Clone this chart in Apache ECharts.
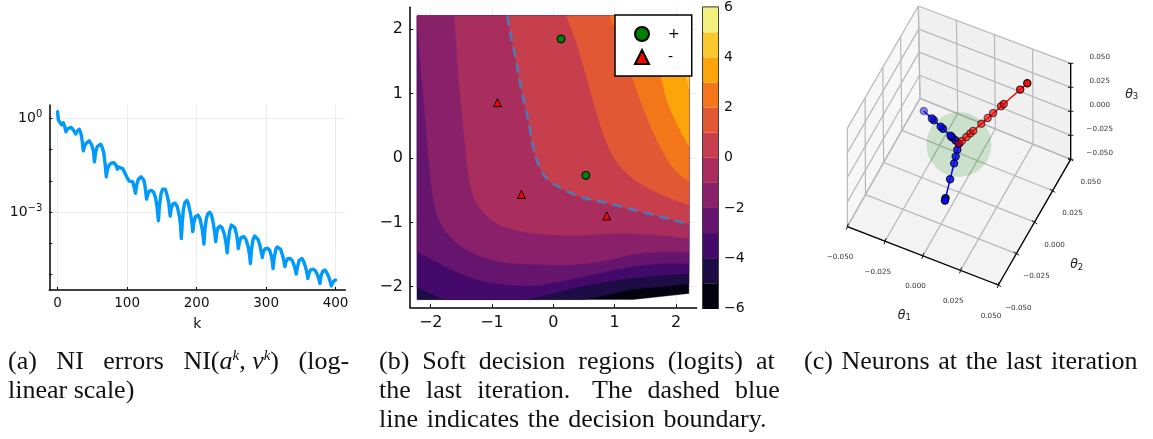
<!DOCTYPE html>
<html><head><meta charset="utf-8">
<style>html,body{margin:0;padding:0;background:#fff}#c{width:1153px;height:439px}</style>
<script src="https://cdn.jsdelivr.net/npm/echarts@6/dist/echarts.min.js"></script>
</head><body><div id="c"></div>
<script>
// ---- panel (a): k, log10 NI error
const errK = [0,0.5,1,3,5.7,8,10,12,13.5,15,19,22,26,28,31,33.5,35.5,37,39,41,45.5,49,51.5,53,54.5,57,62,64.5,66.5,68.5,70,71.5,74,77,81,84,86,88,90,94,97,100,103,108,110,112,113.5,116,120,124,126,128,
130,132,135,138,141,143,145,146.5,149,151,153,155,157,160,162,163.5,166,169,172,175,177,178,179.5,181,183,186,188,191,193,194.5,196,198,202,205,208,209.5,210.5,212,214,216,219,221.5,224,226,227.5,229,231,234,237,240,242.5,244,245.5,247.5,250,252.5,255,257.5,259,260,261.5,264,268,271,274,276,277.5,279,281,283.5,286,288.5,291,293,294.5,296,298.5,302,305,307.5,309,310,311.5,314,316,318.5,321,323.5,325.5,327,328.5,331,335,338,341,343.5,345,347.5,351.6,354,357,359,360,361.5,364,367.4,371,374,376,377.5,379,381.5,384.7,387.5,390.5,392.5,394,395.5,397.6,400];
const errLog = [0.21,0.05,-0.05,-0.12,-0.21,-0.14,-0.25,-0.43,-0.35,-0.32,-0.29,-0.35,-0.50,-0.42,-0.35,-0.48,-0.75,-1.04,-0.88,-0.80,-0.72,-0.85,-1.05,-1.39,-1.10,-0.91,-0.83,-0.95,-1.12,-1.5,-1.87,-1.65,-1.50,-1.44,-1.42,-1.50,-1.63,-1.56,-1.51,-1.62,-1.76,-1.9,-2.01,-2.03,-2.2,-2.40,-2.15,-1.96,-1.87,-1.98,-2.2,-2.59,
-2.42,-2.33,-2.31,-2.36,-2.55,-2.82,-3.28,-2.80,-2.40,-2.27,-2.24,-2.28,-2.42,-2.72,-3.13,-2.88,-2.74,-2.72,-2.82,-3.10,-3.45,-3.85,-3.30,-2.92,-2.70,-2.63,-2.72,-3.04,-3.30,-3.63,-3.35,-3.16,-3.10,-3.22,-3.55,-3.80,-4.03,-3.55,-3.22,-3.06,-3.01,-3.10,-3.37,-3.65,-3.95,-3.65,-3.50,-3.45,-3.52,-3.72,-4.02,-4.31,-3.95,-3.60,-3.42,-3.39,-3.50,-3.72,-3.95,-4.17,-3.98,-3.82,-3.79,-3.88,-4.10,-4.35,-4.65,-4.20,-3.90,-3.77,-3.76,-3.88,-4.06,-4.28,-4.46,-4.28,-4.18,-4.16,-4.22,-4.40,-4.60,-4.81,-4.50,-4.20,-4.12,-4.11,-4.20,-4.38,-4.55,-4.75,-4.60,-4.50,-4.49,-4.57,-4.75,-4.99,-4.78,-4.55,-4.49,-4.58,-4.78,-4.98,-5.13,-4.98,-4.86,-4.83,-4.88,-5.02,-5.15,-5.29,-5.05,-4.90,-4.86,-4.95,-5.10,-5.25,-5.37,-5.28,-5.21,-5.18];
const kTicks = [0,100,200,300,400];
const decadeTicks = [0,-1,-2,-3,-4,-5];
const labelledDecades = [0,-3];

// ---- panel (b): iso-lines of the logits
const isoM5 = [[2.21,-1.95],[1.74,-2.0],[1.30,-2.04],[0.87,-2.13],[0.49,-2.20]];
const isoM4 = [[2.21,-1.80],[1.63,-1.83],[1.03,-1.90],[0.43,-2.0],[-0.11,-2.13],[-0.49,-2.20]];
const isoM4corner = [[-1.77,-2.20],[-2.01,-2.10],[-2.22,-2.01]];
const isoM3 = [[2.21,-1.64],[1.74,-1.64],[1.20,-1.70],[0.60,-1.82],[0.11,-1.92],[-0.33,-1.98],[-0.76,-1.97],[-1.20,-1.90],[-1.58,-1.77],[-1.96,-1.59],[-2.22,-1.46]];
const isoM2 = [[2.21,-1.46],[1.68,-1.46],[1.30,-1.50],[0.76,-1.61],[0.22,-1.66],[-0.33,-1.65],[-0.87,-1.61],[-1.41,-1.43],[-1.77,-1.12],[-1.93,-0.76],[-2.01,-0.24],[-2.09,0.64],[-2.16,1.42],[-2.22,2.07]];
const isoM1 = [[2.21,-1.25],[1.74,-1.20],[1.09,-1.17],[0.33,-1.20],[-0.33,-1.17],[-0.87,-1.04],[-1.17,-0.81],[-1.35,-0.45],[-1.44,0.23],[-1.55,1.32],[-1.61,2.21]];
const iso0 = [[-0.75,2.21],[-0.71,1.99],[-0.61,1.52],[-0.52,1.06],[-0.41,0.59],[-0.33,0.18],[-0.24,-0.11],[-0.11,-0.32],[0.11,-0.46],[0.43,-0.60],[0.87,-0.70],[1.41,-0.83],[1.85,-0.94],[2.21,-1.03]];
const iso1 = [[0.21,2.21],[0.38,1.78],[0.54,1.26],[0.71,0.69],[0.87,0.23],[1.09,-0.13],[1.41,-0.39],[1.79,-0.58],[2.21,-0.73]];
const iso2 = [[0.92,2.21],[1.09,1.78],[1.30,1.21],[1.52,0.64],[1.74,0.18],[1.96,-0.16],[2.21,-0.37]];
const iso3 = [[1.41,2.21],[1.73,1.33],[1.85,0.90],[2.01,0.54],[2.21,0.18]];
const iso4 = [[1.90,2.21],[2.15,1.33],[2.21,1.08]];
const sampled = [[-2.22,-2.2],[1.30,-2.2],[2.21,-2.104],[2.21,2.21],[-2.22,2.21]];
const plusPts = [[0.125,1.85],[0.53,-0.27]];
const minusPts = [[-0.91,0.86],[-0.52,-0.565],[0.87,-0.90]];
const bTicks = [-2,-1,0,1,2];
const barTicks = [-6,-4,-2,0,2,4,6];
const barLevels = [-6,-5,-4,-3,-2,-1,0,1,2,3,4,5];

// ---- panel (c): neurons in parameter space
const redT1 = [0,0.0012,0.003,0.0045,0.0057,0.0089,0.0114,0.0135,0.0167,0.0178,0.0243,0.027];
const redT2 = [0,0.0017,0.0042,0.0063,0.008,0.0125,0.0161,0.0192,0.0236,0.025,0.0342,0.0383];
const redT3 = [0,0.0013,0.0033,0.005,0.0063,0.0099,0.0127,0.0151,0.0186,0.0198,0.027,0.03];
const blueAT1 = [0,-0.0023,-0.0045,-0.0055,-0.0105,-0.012,-0.0165,-0.0178,-0.0231];
const blueAT2 = [0,0,0,0,0,0,0,0,0];
const blueAT3 = [0,0.002,0.0039,0.0048,0.0091,0.0104,0.0143,0.0154,0.02];
const blueBT1 = [0,0.0001,0.0002,0.0004,0.0006,0.00096,0.001];
const blueBT2 = [0,-0.0024,-0.0049,-0.0075,-0.0135,-0.0206,-0.0215];
const blueBT3 = [0,-0.0033,-0.0069,-0.0105,-0.0189,-0.0288,-0.03];
const thetaTicks = [-0.05,-0.025,0,0.025,0.05];

const sans = '"DejaVu Sans"', serif = '"Liberation Serif"';
const bandColors = ['#04020f','#1d0c45','#430a6b','#65156e','#88216a','#a92e5e','#c73e4c','#e25734','#f3771a','#fca50a','#fac92d','#f2f07f'];
const X0=-2.22, X1=2.21, Y0=-2.2, Y1=2.21;
// Catmull-Rom rendering of a read iso-line
function curve(pts){
  const out=[];
  for(let i=0;i<pts.length-1;i++){
    const p0=pts[Math.max(i-1,0)],p1=pts[i],p2=pts[i+1],p3=pts[Math.min(i+2,pts.length-1)];
    for(let s=0;s<8;s++){
      const t=s/8,t2=t*t,t3=t2*t;
      const f=d=>0.5*(2*p1[d]+(p2[d]-p0[d])*t+(2*p0[d]-5*p1[d]+4*p2[d]-p3[d])*t2+(3*p1[d]-p0[d]-3*p2[d]+p3[d])*t3);
      out.push([Math.min(X1,Math.max(X0,f(0))),Math.min(Y1,Math.max(Y0,f(1)))]);
    }
  }
  out.push(pts[pts.length-1]);
  return out;
}
const regions = [
  sampled,
  curve(isoM5).concat([[X0,Y0],[X0,Y1],[X1,Y1]]),
  curve(isoM4).concat(curve(isoM4corner),[[X0,Y1],[X1,Y1]]),
  curve(isoM3).concat([[X0,Y1],[X1,Y1]]),
  curve(isoM2).concat([[X0,Y1],[X1,Y1]]),
  curve(isoM1).concat([[X0,Y1],[X1,Y1]]),
  curve(iso0).concat([[X1,Y1]]),
  curve(iso1).concat([[X1,Y1]]),
  curve(iso2).concat([[X1,Y1]]),
  curve(iso3).concat([[X1,Y1]]),
  curve(iso4).concat([[X1,Y1]])
];
const regionColor = [0,1,2,3,4,5,6,7,8,9,10].map(i=>bandColors[i]);

// cube projection: view position of the eight cube corners [θ1][θ2][θ3]
const cube = [[[[112,680],[112,385]],[[330,295],[325,18]]],[[[565,855],[565,545]],[[782,478],[782,190]]]];
function proj(a,b,c){
  const u=(a+0.05)/0.1,v=(b+0.05)/0.1,w=(c+0.05)/0.1, out=[0,0];
  for(let i=0;i<2;i++)for(let j=0;j<2;j++)for(let k=0;k<2;k++){
    const f=(i?u:1-u)*(j?v:1-v)*(k?w:1-w);
    out[0]+=f*cube[i][j][k][0]; out[1]+=f*cube[i][j][k][1];
  }
  return out;
}
const L=0.05;
const segs=[];
thetaTicks.forEach(t=>{
  segs.push([t,-L,-L,t,L,-L]); segs.push([-L,t,-L,L,t,-L]); // floor
  segs.push([-L,t,-L,-L,t,L]); segs.push([-L,-L,t,-L,L,t]); // left wall
  segs.push([t,L,-L,t,L,L]);   segs.push([-L,L,t,L,L,t]);   // back wall
});
const axisSegs=[[-L,-L,-L,L,-L,-L],[L,-L,-L,L,L,-L],[L,L,-L,L,L,L]];
const panes=[
  [[-L,-L,-L],[-L,-L,L],[-L,L,L],[-L,L,-L],'#f7f7f7'],
  [[-L,L,-L],[-L,L,L],[L,L,L],[L,L,-L],'#f0f0f0'],
  [[-L,-L,-L],[L,-L,-L],[L,L,-L],[-L,L,-L],'#f3f3f3']
];
const C_AX={xAxisIndex:3,yAxisIndex:5,coordinateSystem:'cartesian2d'};
function tickLabel(v){return (v<0?'\u2212':'')+Math.abs(v).toFixed(3);}
function neuron(name,T1,T2,T3,color,tipAlpha,midAlpha){
  const data=T1.map((v,i)=>[v,T2[i],T3[i]]);
  const tip=data[data.length-1];
  const r=Math.hypot(tip[0],tip[1],tip[2]);
  return [
    Object.assign({type:'custom',name:name+' line',silent:true,z:5,data:[[0,1]],renderItem(p,api){
      const a=api.coord(proj(0,0,0)),b=api.coord(proj(tip[0],tip[1],tip[2]));
      return {type:'line',shape:{x1:a[0],y1:a[1],x2:b[0],y2:b[1]},style:{stroke:color,lineWidth:1.5}};
    }},C_AX),
    Object.assign({type:'custom',name:name,silent:true,z:6,data:data,renderItem(p,api){
      const q=api.coord(proj(api.value(0),api.value(1),api.value(2)));
      const d=Math.hypot(api.value(0),api.value(1),api.value(2))/r;
      const o=midAlpha+(tipAlpha-midAlpha)*d*d*d*d;
      return {type:'circle',shape:{cx:q[0],cy:q[1],r:3.6},style:{fill:color,stroke:'#000',lineWidth:1.2,opacity:o}};
    }},C_AX)
  ];
}

const H='\u200a';
const option={
  animation:false,backgroundColor:'#fff',
  title:[
    {left:8,top:349,text:'{t|(a)   NI   errors   NI(}{i|a}{u|k}{t|,}{i| \u03bd}{u|k}{t|)   (log-}'},
    {left:8,top:378,text:'{t|linear scale)}'},
    {left:379,top:349,text:'{t|(b)  Soft  decision  regions  (logits)  at}'},
    {left:379,top:378,text:'{t|'+'the  last  iteration.   The  dashed  blue'.replace(/ +/g,m=>m+H)+'}'},
    {left:379,top:407,text:'{t|'+'line indicates the decision boundary.'.replace(/ /g,' '+H)+'}'},
    {left:804,top:349,text:'{t|'+'(c) Neurons at the last iteration'.replace(/ /g,' '+H)+'}'}
  ].map(o=>Object.assign(o,{padding:0,textStyle:{fontWeight:'normal',rich:{
    t:{fontFamily:serif,fontSize:26,fontWeight:'normal',color:'#111'},
    i:{fontFamily:serif,fontSize:26,fontWeight:'normal',fontStyle:'italic',color:'#111'},
    u:{fontFamily:serif,fontSize:15,fontWeight:'normal',fontStyle:'italic',color:'#111',padding:[0,0,12,0]}
  }}})),
  legend:{left:615,top:15,orient:'vertical',data:['+','-'],itemWidth:14,itemHeight:14,itemGap:7,
    padding:[11,12,11,19],backgroundColor:'#fff',borderColor:'#000',borderWidth:1.5,borderRadius:0,
    selectedMode:false,textStyle:{fontFamily:sans,fontSize:14,color:'#000',padding:[0,0,0,14]}},
  grid:[
    {left:49.3,top:105,width:296,height:185},
    {left:410,top:7.3,width:286.7,height:300},
    {left:703,top:7.3,width:15,height:301,show:true,borderColor:'#000',borderWidth:1.5,backgroundColor:'transparent'},
    {left:810,top:0,width:343,height:335}
  ],
  xAxis:[
    {gridIndex:0,type:'value',min:-12,max:414,name:'k',nameLocation:'middle',nameGap:27,
     nameTextStyle:{fontFamily:sans,fontSize:14,color:'#111'},
     axisLine:{onZero:false,lineStyle:{color:'#000',width:1.5}},
     axisTick:{show:true,inside:true,length:3,customValues:kTicks,lineStyle:{color:'#000'}},
     axisLabel:{customValues:kTicks,fontFamily:sans,fontSize:13.5,color:'#111',margin:6},
     splitLine:{show:true,lineStyle:{color:'#ececec',width:1}}},
    {gridIndex:1,type:'value',min:-2.337,max:2.337,
     axisLine:{onZero:false,lineStyle:{color:'#000',width:1.5}},
     axisTick:{show:true,inside:true,length:3,customValues:bTicks,lineStyle:{color:'#000'}},
     axisLabel:{customValues:bTicks,fontFamily:sans,fontSize:16,color:'#111',margin:8,formatter:v=>String(v).replace('-','\u2212')},
     splitLine:{show:true,lineStyle:{color:'#ececec',width:1}}},
    {gridIndex:2,type:'value',min:0,max:1,show:false},
    {gridIndex:3,type:'value',min:0,max:1029,show:false}
  ],
  yAxis:[
    {gridIndex:0,type:'value',position:'left',min:-5.5,max:0.427,
     axisLine:{onZero:false,lineStyle:{color:'#000',width:1.5}},
     axisTick:{show:false,customValues:labelledDecades},
     axisLabel:{customValues:labelledDecades,margin:7,formatter:v=>'{b|10}{s|'+String(v).replace('-','\u2212')+'}',
       rich:{b:{fontFamily:sans,fontSize:14,color:'#111'},s:{fontFamily:sans,fontSize:10,color:'#111',padding:[0,0,8,0]}}},
     splitLine:{show:true,lineStyle:{color:'#ececec',width:1}}},
    {gridIndex:0,type:'value',position:'left',min:-5.5,max:0.427,
     axisLine:{show:false,onZero:false},
     axisTick:{show:true,inside:true,length:3,customValues:decadeTicks,lineStyle:{color:'#000'}},
     axisLabel:{show:false},splitLine:{show:false}},
    {gridIndex:1,type:'value',min:-2.32,max:2.342,
     axisLine:{onZero:false,lineStyle:{color:'#000',width:1.5}},
     axisTick:{show:true,inside:true,length:3,customValues:bTicks,lineStyle:{color:'#000'}},
     axisLabel:{customValues:bTicks,fontFamily:sans,fontSize:16,color:'#111',margin:7,formatter:v=>String(v).replace('-','\u2212')},
     splitLine:{show:true,lineStyle:{color:'#ececec',width:1}}},
    {gridIndex:2,type:'value',min:-6,max:6,position:'right',
     axisLine:{show:false,onZero:false},axisTick:{show:false,customValues:barTicks},
     axisLabel:{customValues:barTicks,fontFamily:sans,fontSize:14,color:'#111',margin:6,formatter:v=>String(v).replace('-','\u2212')},
     splitLine:{show:false}},
    {gridIndex:2,type:'value',min:-6,max:6,show:false},
    {gridIndex:3,type:'value',min:0,max:1005,inverse:true,show:false}
  ],
  series:[
    {type:'line',name:'NI',xAxisIndex:0,yAxisIndex:0,data:errK.map((k,i)=>[k,errLog[i]]),showSymbol:false,
     lineStyle:{color:'#009afa',width:3.4,join:'round',cap:'round'},itemStyle:{color:'#009afa'},silent:true,clip:false},
    {type:'custom',name:'regions',coordinateSystem:'cartesian2d',xAxisIndex:1,yAxisIndex:2,silent:true,z:2,clip:false,
     data:regions.map((r,i)=>[i]),renderItem(p,api){
       const i=api.value(0);
       return {type:'polygon',shape:{points:regions[i].map(q=>api.coord(q))},style:{fill:regionColor[i],stroke:regionColor[i],lineWidth:0.4}};
     }},
    {type:'line',name:'boundary',xAxisIndex:1,yAxisIndex:2,data:curve(iso0),showSymbol:false,silent:true,z:3,
     lineStyle:{color:'#4f78b8',width:2.6,type:[10,6]}},
    {type:'scatter',name:'+',xAxisIndex:1,yAxisIndex:2,data:plusPts,symbol:'circle',symbolSize:8,z:4,
     itemStyle:{color:'#008000',borderColor:'#000',borderWidth:1,opacity:1}},
    {type:'scatter',name:'-',xAxisIndex:1,yAxisIndex:2,data:minusPts,symbol:'triangle',symbolSize:8,z:4,
     itemStyle:{color:'#ff0000',borderColor:'#000',borderWidth:1,opacity:1}},
    {type:'custom',name:'colorbar',coordinateSystem:'cartesian2d',xAxisIndex:2,yAxisIndex:4,silent:true,
     data:barLevels.map((v,i)=>[v,i]),renderItem(p,api){
       const a=api.coord([0,api.value(0)]),b=api.coord([1,api.value(0)+1]);
       return {type:'rect',shape:{x:a[0],y:b[1],width:b[0]-a[0],height:a[1]-b[1]},style:{fill:bandColors[api.value(1)]}};
     }},
    // panel (c)
    Object.assign({type:'custom',name:'panes',silent:true,z:1,data:panes.map((x,i)=>[i]),renderItem(p,api){
      const w=panes[api.value(0)];
      return {type:'polygon',shape:{points:w.slice(0,4).map(q=>api.coord(proj(q[0],q[1],q[2])))},style:{fill:w[4]}};
    }},C_AX),
    Object.assign({type:'custom',name:'grid3d',silent:true,z:2,data:segs,renderItem(p,api){
      const a=api.coord(proj(api.value(0),api.value(1),api.value(2))),b=api.coord(proj(api.value(3),api.value(4),api.value(5)));
      return {type:'line',shape:{x1:a[0],y1:a[1],x2:b[0],y2:b[1]},style:{stroke:'#b8b8b8',lineWidth:1.2}};
    }},C_AX),
    Object.assign({type:'custom',name:'axes3d',silent:true,z:3,data:axisSegs,renderItem(p,api){
      const a=api.coord(proj(api.value(0),api.value(1),api.value(2))),b=api.coord(proj(api.value(3),api.value(4),api.value(5)));
      return {type:'line',shape:{x1:a[0],y1:a[1],x2:b[0],y2:b[1]},style:{stroke:'#000',lineWidth:1.3}};
    }},C_AX),
    Object.assign({type:'custom',name:'sphere',silent:true,z:4,data:[[0,0,0]],renderItem(p,api){
      const q=api.coord(proj(0,0,0));
      return {type:'circle',shape:{cx:q[0],cy:q[1]+1,r:32.5},style:{fill:'rgba(0,128,0,0.16)'}};
    }},C_AX),
    ...neuron('neurons blue a',blueAT1,blueAT2,blueAT3,'#0000ff',0.45,0.85),
    ...neuron('neurons blue b',blueBT1,blueBT2,blueBT3,'#0000ff',0.95,0.8),
    ...neuron('neurons red',redT1,redT2,redT3,'#ff0000',0.95,0.6),
    Object.assign({type:'custom',name:'ticklabels',silent:true,z:7,
      data:thetaTicks.flatMap(t=>[[t,0],[t,1],[t,2]]),renderItem(p,api){
        const t=api.value(0),ax=api.value(1);
        const base=ax===0?proj(t,-L,-L):ax===1?proj(L,t,-L):proj(L,L,t);
        const off=ax===0?[-22,92]:ax===1?[60,68]:[87,-18];
        const tk=ax===0?[-3,9]:ax===1?[8,5]:[8,0];
        const q=api.coord([base[0]+off[0],base[1]+off[1]]);
        const b=api.coord([base[0]+tk[0],base[1]+tk[1]]);
        const c=api.coord([base[0]-tk[0],base[1]-tk[1]]);
        return {type:'group',children:[
          {type:'line',shape:{x1:c[0],y1:c[1],x2:b[0],y2:b[1]},style:{stroke:'#000',lineWidth:0.9}},
          {type:'text',x:q[0],y:q[1],style:{text:tickLabel(t),fontFamily:sans,fontSize:7.2,fill:'#333',align:'center',verticalAlign:'middle'}}
        ]};
      }},C_AX),
    Object.assign({type:'custom',name:'axisnames',silent:true,z:7,data:[[283,947,1],[800,795,2],[965,283,3]],renderItem(p,api){
      const q=api.coord([api.value(0),api.value(1)]);
      return {type:'text',x:q[0],y:q[1],style:{text:'{a|\u03b8}{b|'+api.value(2)+'}',align:'center',verticalAlign:'middle',
        rich:{a:{fontFamily:sans,fontStyle:'italic',fontSize:12.5,fill:'#222'},b:{fontFamily:sans,fontSize:8.5,fill:'#222',padding:[5,0,0,0]}}}};
    }},C_AX)
  ]
};
const chart=echarts.init(document.getElementById('c'),null,{renderer:'canvas'});
chart.setOption(option);
</script></body></html>
